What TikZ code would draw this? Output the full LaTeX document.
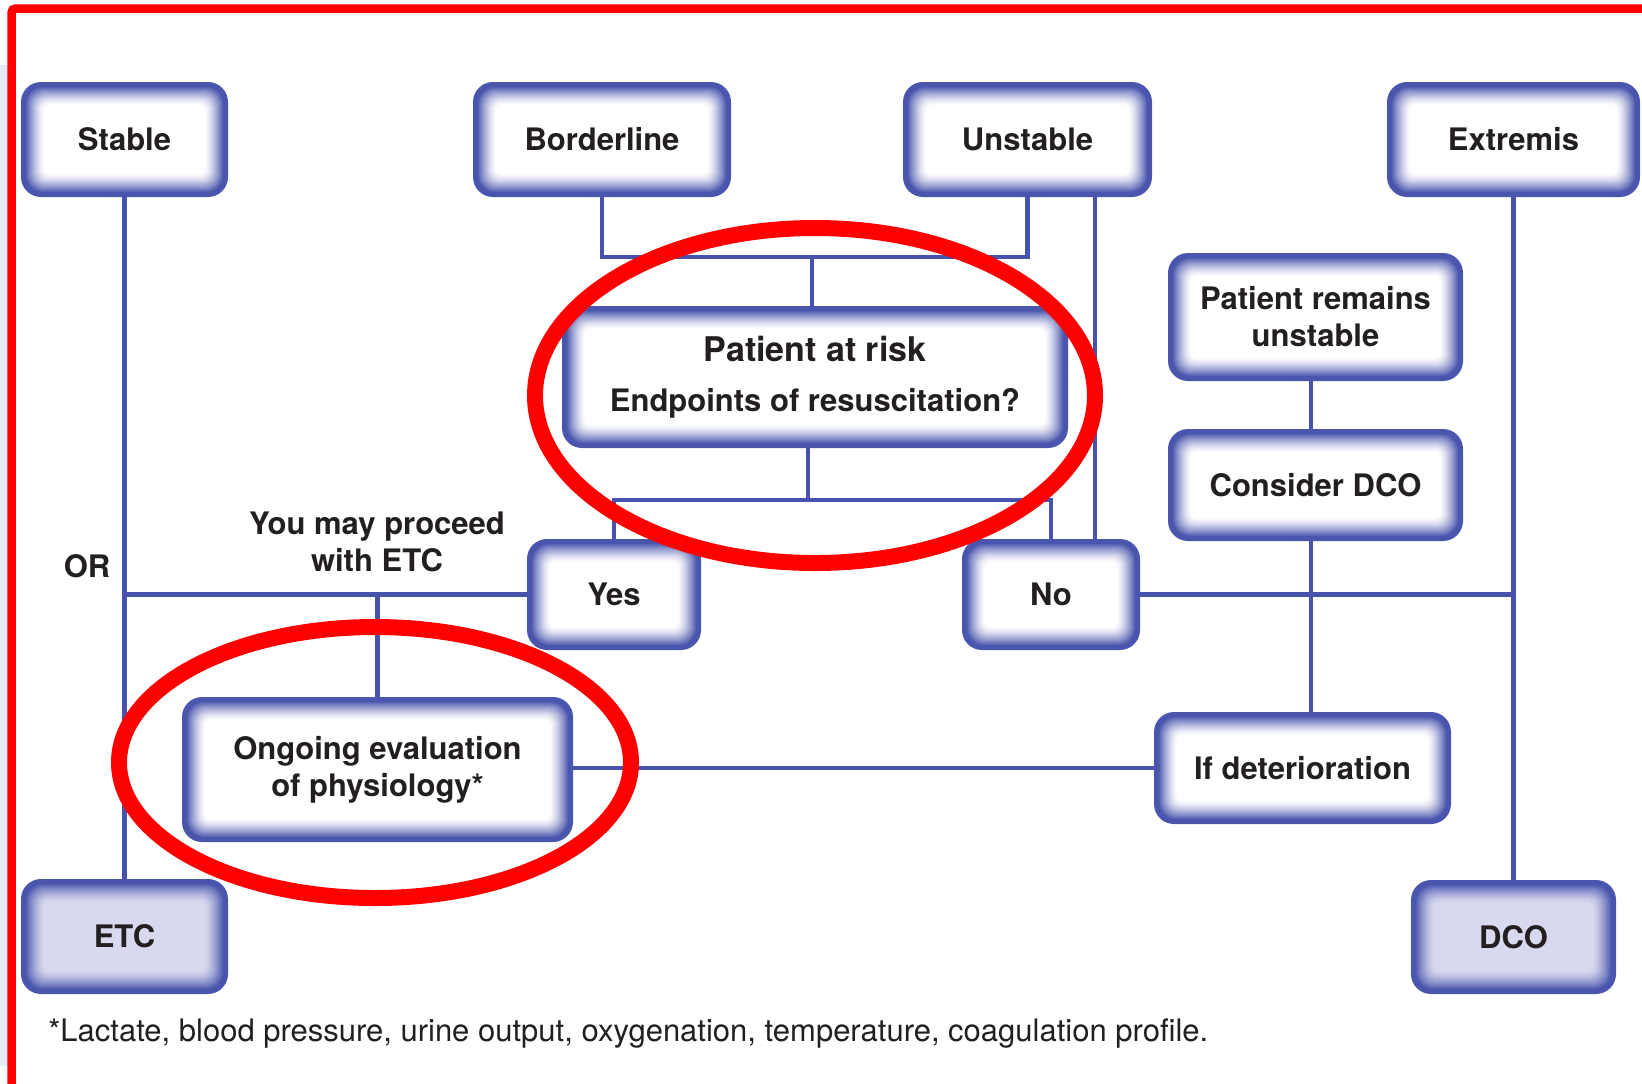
\documentclass[tikz,border=0pt]{standalone}
\usepackage{fontspec}
\setmainfont{TeX Gyre Heros}
\definecolor{boxblue}{HTML}{4A56AD}
\definecolor{lineblue}{HTML}{4652AE}
\definecolor{lavender}{HTML}{D8D9EE}
\definecolor{ink}{HTML}{231F20}
\definecolor{stripblue}{HTML}{E4EBF6}
\definecolor{markred}{HTML}{FF0000}

% inner glow: nested rounded rectangles fading from the blue rim to the fill colour
\newcommand\glowfill[1]{%
  \foreach \d in {4,5,...,23}{%
    \pgfmathsetmacro\dd{\d/2}%
    \pgfmathsetmacro\mm{100*((23-\d)/19)^1.4}%
    \pgfmathsetmacro\rr{max(10-\dd*0.6,3)}%
    \fill[boxblue!\mm!#1, rounded corners=\rr pt]
      ([shift={(\dd pt,\dd pt)}]path picture bounding box.south west) rectangle
      ([shift={(-\dd pt,-\dd pt)}]path picture bounding box.north east);
  }%
}
\newcommand\boxfont{\fontsize{15.5}{18.5}\selectfont\bfseries}

\begin{document}
\begin{tikzpicture}[x=0.5pt,y=-0.5pt,
  gbox/.style={shape=rectangle, rounded corners=10pt, fill=boxblue, inner sep=0pt,
    align=center, text=ink, font=\boxfont, path picture={\glowfill{#1}}},
  gbox/.default=white,
  bsz/.style 2 args={minimum width=#1*0.5pt, minimum height=#2*0.5pt},
  conn/.style={draw=lineblue, line width=2.2pt},
  lbl/.style={text=ink, font=\boxfont, align=center, inner sep=0pt},
  ring/.style={draw=markred, line width=8pt}]

\useasboundingbox (0,0) rectangle (1642,1083);
\fill[white] (0,0) rectangle (1642,1083);
\fill[stripblue] (0,65) rectangle (7.5,1066);

% top row
\node[gbox, bsz={207}{115}] (stable) at (124.5,139.5) {Stable};
\node[gbox, bsz={258}{115}] (border) at (602,139.5) {Borderline};
\node[gbox, bsz={249}{115}] (unst) at (1027.5,139.5) {Unstable};
\node[gbox, bsz={253}{115}] (extr) at (1513.5,139.5) {Extremis};

% middle
\node[gbox, bsz={506}{142}] (par) at (815,377)
  {{\fontsize{17}{20}\selectfont Patient at risk}\\[6.5pt]Endpoints of resuscitation?};
\node[gbox, bsz={295}{128}] (pru) at (1315.5,317) {Patient remains\\unstable};
\node[gbox, bsz={295}{112}] (cdco) at (1315.5,485) {Consider DCO};
\node[gbox, bsz={174}{111}] (yes) at (614,594.5) {Yes};
\node[gbox, bsz={178}{111}] (no) at (1051,594.5) {No};
\node[gbox, bsz={391}{145}] (ong) at (377.5,769.5) {Ongoing evaluation\\of physiology*};
\node[gbox, bsz={297}{112}] (ifdet) at (1302.5,768) {If deterioration};

% outcomes
\node[gbox=lavender, bsz={207}{115}] (etc) at (124.5,936.5) {ETC};
\node[gbox=lavender, bsz={205}{114}] (dco) at (1513.5,937) {DCO};

% labels
\node[lbl] (orlbl) at (87,566) {OR};
\node[lbl] (proceed) at (377,542) {You may proceed\\with ETC};
\node[anchor=base west, inner sep=0pt, text=ink, font=\fontsize{15.5}{18.5}\selectfont] (note) at (48,1041)
  {*Lactate, blood pressure, urine output, oxygenation, temperature, coagulation profile.};

% connectors
\coordinate (jtop) at (812,257);
\coordinate (jmid) at (808,500);
\coordinate (ux) at (1095,0);
\coordinate (dx) at (1311,0);

\draw[conn] (border.south) |- (jtop) -| (unst.south);
\draw[conn] (jtop) -- (par.north -| jtop);
\draw[conn] (par.south -| jmid) -- (jmid);
\draw[conn] (yes.north) |- (jmid) -| (no.north);
\draw[conn] (unst.south -| ux) -- (no.north -| ux);
\draw[conn] (stable.south) -- (etc.north);
\draw[conn] (yes.west) -- (yes.west -| stable.south);
\draw[conn] (ong.north) -- (ong.north |- yes.west);
\draw[conn] (no.east) -- (no.east -| extr.south);
\draw[conn] (extr.south) -- (dco.north);
\draw[conn] (pru.south -| dx) -- (cdco.north -| dx);
\draw[conn] (cdco.south -| dx) -- (ifdet.north -| dx);
\draw[conn] (ong.east |- ifdet.west) -- (ifdet.west);

% red highlight rings and frame
\draw[ring] (815,395.5) ellipse [x radius=140pt, y radius=83.75pt];
\draw[ring] (375,762.5) ellipse [x radius=128pt, y radius=67.75pt];
\draw[markred, line width=4.25pt, rounded corners=2pt] (11.5,1090) -- (11.5,8.5) -- (1650,8.5);
\end{tikzpicture}
\end{document}
